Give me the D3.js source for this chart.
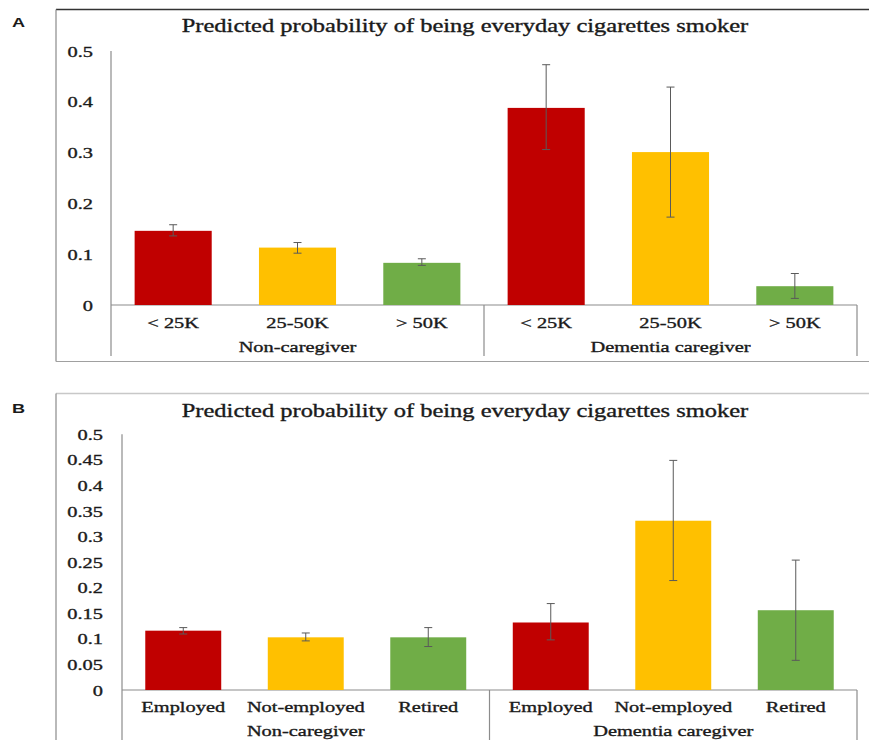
<!DOCTYPE html>
<html>
<head>
<meta charset="utf-8">
<script src="https://cdn.jsdelivr.net/npm/d3@7"></script>
<style>
  html, body { margin: 0; padding: 0; background: #fff; }
  svg text { font-family: "Liberation Serif", "Times New Roman", serif; fill: #1a1a1a; stroke: #1a1a1a; stroke-width: 0.35px; }
  svg text.letter { font-family: "Liberation Sans", Arial, sans-serif; font-weight: bold; stroke: none; }
</style>
</head>
<body>
<svg id="chart" width="869" height="740"></svg>
<script>
// Category labels
const incomeCats = ["< 25K", "25-50K", "> 50K"];
const employCats = ["Employed", "Not-employed", "Retired"];
const groups = ["Non-caregiver", "Dementia caregiver"];
const chartTitle = "Predicted probability of being everyday cigarettes smoker";

// Panel A: by household income (non-caregivers first, then dementia caregivers)
const incomeProb = [0.146, 0.113, 0.083, 0.388, 0.301, 0.037];
const incomeLow  = [0.136, 0.102, 0.078, 0.306, 0.173, 0.013];
const incomeHigh = [0.158, 0.123, 0.091, 0.473, 0.429, 0.062];

// Panel B: by employment status
const employProb = [0.116, 0.103, 0.103, 0.132, 0.331, 0.156];
const employLow  = [0.1095, 0.096, 0.085, 0.098, 0.214, 0.058];
const employHigh = [0.122, 0.1115, 0.122, 0.169, 0.449, 0.254];

// Y tick values
const ticksA = [0, 0.1, 0.2, 0.3, 0.4, 0.5];
const ticksB = [0, 0.05, 0.1, 0.15, 0.2, 0.25, 0.3, 0.35, 0.4, 0.45, 0.5];

const barColors = ["#C00000", "#FFC000", "#70AD47"];
const SX = 1.36; // horizontal text stretch

const svg = d3.select("#chart");

function stretchedText(g, txt, x, y, size, anchor) {
  return g.append("text")
    .attr("transform", `translate(${x},${y}) scale(${SX},1)`)
    .attr("text-anchor", anchor || "middle")
    .attr("font-size", size)
    .text(txt);
}

function panel(cfg) {
  const g = svg.append("g");

  // outer frame
  g.append("line").attr("x1", cfg.frame.x).attr("x2", 869)
    .attr("y1", cfg.frame.top).attr("y2", cfg.frame.top)
    .attr("stroke", cfg.frame.topColor).attr("stroke-width", cfg.frame.topWidth);
  g.append("line").attr("x1", cfg.frame.x).attr("x2", cfg.frame.x)
    .attr("y1", cfg.frame.top).attr("y2", cfg.frame.bottom)
    .attr("stroke", "#8a8a8a").attr("stroke-width", 1.2);
  if (cfg.frame.showBottom) {
    g.append("line").attr("x1", cfg.frame.x).attr("x2", 869)
      .attr("y1", cfg.frame.bottom).attr("y2", cfg.frame.bottom)
      .attr("stroke", "#a0a0a0").attr("stroke-width", 1.2);
  }

  // panel letter
  g.append("text").attr("class", "letter")
    .attr("font-size", 12.5)
    .attr("transform", `translate(12,${cfg.letterY}) scale(1.45,1)`)
    .text(cfg.letter);

  // title
  stretchedText(g, chartTitle, 465, cfg.titleY, 18);

  const keys = d3.range(6);
  const x = d3.scaleBand().domain(keys).range([cfg.x0, cfg.x1])
    .paddingInner(0.38).paddingOuter(0.19);
  const y = d3.scaleLinear().domain([0, 0.5]).range([cfg.y0, cfg.yTop]);

  // y axis labels
  const yAxis = d3.axisLeft(y).tickValues(cfg.ticks).tickSize(0)
    .tickFormat(d => String(+d.toFixed(2)));
  const ag = g.append("g").attr("transform", `translate(${cfg.x0},0)`).call(yAxis);
  ag.select(".domain").remove();
  ag.attr("font-family", null).attr("font-size", null);
  ag.selectAll(".tick text")
    .attr("x", null).attr("dy", null)
    .attr("font-size", 15).attr("fill", null)
    .attr("transform", `translate(${cfg.tickRight - cfg.x0},5) scale(${SX},1)`)
    .attr("text-anchor", "end");

  // axis lines
  const axisColor = "#8c8c8c";
  g.append("line").attr("x1", cfg.x0).attr("x2", cfg.x0)
    .attr("y1", y(0.5)).attr("y2", cfg.axisBottom)
    .attr("stroke", axisColor).attr("stroke-width", 1.2);
  g.append("line").attr("x1", cfg.x0).attr("x2", cfg.x1)
    .attr("y1", y(0)).attr("y2", y(0))
    .attr("stroke", axisColor).attr("stroke-width", 1.2);
  const sepX = (x(2) + x.bandwidth() + x(3)) / 2;
  [sepX, cfg.x1].forEach(sx => {
    g.append("line").attr("x1", sx).attr("x2", sx)
      .attr("y1", y(0)).attr("y2", cfg.axisBottom)
      .attr("stroke", axisColor).attr("stroke-width", 1.2);
  });

  // bars
  g.selectAll("rect.bar").data(keys).join("rect")
    .attr("class", "bar")
    .attr("x", d => x(d)).attr("width", x.bandwidth())
    .attr("y", d => y(cfg.prob[d]))
    .attr("height", d => y(0) - y(cfg.prob[d]))
    .attr("fill", d => barColors[d % 3]);

  // error bars
  const errColor = "#5a5a5a", cap = 4;
  const eg = g.selectAll("g.err").data(keys).join("g").attr("class", "err")
    .attr("transform", d => `translate(${x(d) + x.bandwidth() / 2},0)`);
  eg.append("line").attr("x1", 0).attr("x2", 0)
    .attr("y1", d => y(cfg.high[d])).attr("y2", d => y(cfg.low[d]))
    .attr("stroke", errColor).attr("stroke-width", 1);
  ["high", "low"].forEach(k => {
    eg.append("line").attr("x1", -cap).attr("x2", cap)
      .attr("y1", d => y(cfg[k][d])).attr("y2", d => y(cfg[k][d]))
      .attr("stroke", errColor).attr("stroke-width", 1);
  });

  // category labels
  keys.forEach(d => {
    stretchedText(g, cfg.cats[d % 3], x(d) + x.bandwidth() / 2, cfg.catY, 15);
  });
  // group labels
  groups.forEach((name, i) => {
    const cx = (x(i * 3 + 1) + x.bandwidth() / 2);
    stretchedText(g, name, cx, cfg.groupY, 15);
  });
}

panel({
  letter: "A", letterY: 27,
  frame: { x: 56, top: 9.5, bottom: 361.5, topColor: "#333", topWidth: 1.5, showBottom: true },
  titleY: 32,
  x0: 111, x1: 857, y0: 305, yTop: 51, axisBottom: 356,
  tickRight: 93,
  ticks: ticksA,
  prob: incomeProb, low: incomeLow, high: incomeHigh,
  cats: incomeCats, catY: 328, groupY: 352
});

panel({
  letter: "B", letterY: 413,
  frame: { x: 56, top: 393.5, bottom: 740, topColor: "#c8c8c8", topWidth: 1.5, showBottom: false },
  titleY: 417,
  x0: 122, x1: 857, y0: 690, yTop: 434.3, axisBottom: 740,
  tickRight: 103,
  ticks: ticksB,
  prob: employProb, low: employLow, high: employHigh,
  cats: employCats, catY: 711.5, groupY: 735.5
});
</script>
</body>
</html>
